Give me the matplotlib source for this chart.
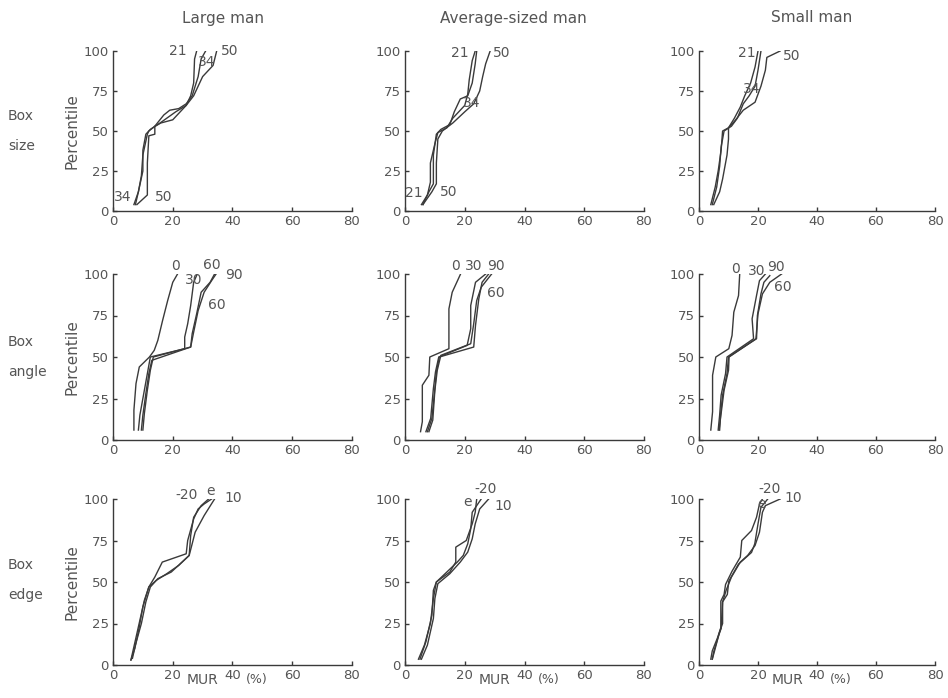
import matplotlib
matplotlib.use("Agg")
import matplotlib.pyplot as plt

# ---------------- data (MUR %, percentile) ----------------
col_titles = ["Large man", "Average-sized man", "Small man"]
row_titles = ["Box\nsize", "Box\nangle", "Box\nedge"]
x_ticks = [0, 20, 40, 60, 80]
y_ticks = [0, 25, 50, 75, 100]

# Row 1: box size (21, 34, 50)
size_L_21_x = [7.5, 8.5, 10, 10, 11, 12.5, 15, 18, 21, 24.5, 26, 27, 27.3, 28]
size_L_21_y = [4, 12, 25, 38, 48, 51, 54, 58, 62, 66, 72, 80, 95, 100]
size_L_34_x = [7, 8.5, 9.5, 10, 11.5, 12, 14, 17, 19, 22, 24.5, 26.5, 28.5, 29.5, 31]
size_L_34_y = [4, 12, 22, 35, 48, 50, 53, 60, 63, 64, 67, 72, 84, 95, 100]
size_L_50_x = [8, 11.5, 11.5, 12, 14, 14, 16, 20, 24.5, 27, 30, 33.5, 34.7]
size_L_50_y = [4, 10, 30, 47, 48, 53, 55, 57, 66, 72, 84, 91, 100]

size_A_21_x = [5.5, 7.5, 8.5, 8.5, 10, 11, 14, 16, 18, 20, 21, 21.5, 22.5, 23.5]
size_A_21_y = [4, 10, 18, 30, 42, 49, 52, 58, 62, 66, 73, 82, 94, 100]
size_A_34_x = [6, 8, 9.5, 9.5, 10.5, 12, 15, 16.5, 18.5, 21, 22.5, 23.5, 24]
size_A_34_y = [4, 12, 17, 35, 48, 51, 54, 62, 70, 72, 80, 92, 100]
size_A_50_x = [6, 9, 10.5, 10.5, 11, 12.5, 16, 20, 23, 25, 26, 27, 28.5]
size_A_50_y = [4, 12, 17, 30, 45, 50, 55, 62, 67, 75, 84, 92, 100]

size_S_21_x = [4, 5.5, 6.5, 7.5, 8, 10, 12, 14, 15.5, 17.5, 19, 20]
size_S_21_y = [4, 15, 25, 38, 50, 52, 58, 65, 72, 80, 90, 100]
size_S_34_x = [4.5, 6, 7, 7.5, 8.5, 11, 13, 15, 17, 19, 20, 21]
size_S_34_y = [4, 15, 28, 40, 50, 53, 58, 67, 72, 78, 88, 100]
size_S_50_x = [5, 7, 8, 9.5, 10, 10, 12, 15, 19, 21, 22.5, 23, 27.5]
size_S_50_y = [4, 12, 20, 35, 45, 52, 56, 63, 68, 78, 88, 96, 100]

# Row 2: box angle (0, 30, 60, 90)
angle_L_0_x = [7, 7, 7.7, 8.8, 12.2, 13.8, 15, 16.6, 18.3, 20, 21.6]
angle_L_0_y = [6, 18, 34, 44, 50, 54, 60, 72, 84, 95, 100]
angle_L_30_x = [8.5, 9, 10.5, 11.5, 12.5, 24, 24, 25, 26, 27, 28.2]
angle_L_30_y = [6, 15, 30, 40, 50, 55, 62, 70, 81, 95, 100]
angle_L_60_x = [9.5, 10, 11, 12, 13, 26, 26.5, 28, 29.5, 32.5, 34]
angle_L_60_y = [6, 15, 28, 40, 48, 56, 64, 76, 89, 95, 100]
angle_L_90_x = [10, 10.5, 11.5, 12.5, 13.5, 26, 27, 28.5, 30.5, 33, 34.5]
angle_L_90_y = [6, 16, 30, 42, 50, 56, 65, 78, 89, 96, 100]

angle_A_0_x = [5.2, 5.8, 5.8, 8, 8.3, 14.7, 14.7, 14.7, 15.8, 18.6]
angle_A_0_y = [5, 11, 33, 39, 50, 55, 61, 79, 89, 100]
angle_A_30_x = [7, 8.6, 9.5, 10.2, 11.3, 20.8, 22, 22, 23.6, 27]
angle_A_30_y = [5, 13, 31, 41, 50, 57, 67, 81, 95, 100]
angle_A_60_x = [7.5, 9, 10, 10.5, 11.5, 23, 23.6, 24.7, 25.8, 28]
angle_A_60_y = [5, 13, 31, 41, 50, 56, 69, 85, 95, 100]
angle_A_90_x = [8, 9.3, 10, 10.8, 12, 22, 23, 24, 25.5, 29]
angle_A_90_y = [5, 12, 30, 42, 51, 58, 70, 84, 92, 100]

angle_S_0_x = [4, 4.6, 4.6, 5.7, 10.1, 11.2, 11.8, 13.4, 13.8]
angle_S_0_y = [6, 17, 39, 50, 55, 63, 77, 87, 100]
angle_S_30_x = [6.5, 7, 7.5, 9, 9.5, 18.5, 18, 19.5, 20.5, 22.5]
angle_S_30_y = [6, 15, 27, 40, 50, 61, 73, 87, 96, 100]
angle_S_60_x = [7, 7.3, 8, 9.5, 10, 19.5, 19.8, 21, 22, 24]
angle_S_60_y = [6, 15, 27, 40, 50, 61, 75, 88, 95, 99]
angle_S_90_x = [6.8, 7.5, 8.5, 10, 10.2, 19.3, 20, 21.5, 24, 28]
angle_S_90_y = [6, 16, 30, 42, 50, 61, 76, 88, 95, 100]

# Row 3: box edge (-20, e, 10)
edge_L_m20_x = [6, 7, 9, 10.5, 12, 14, 16.5, 24.5, 25, 27, 28.5, 30.5, 33]
edge_L_m20_y = [3, 11, 27, 39, 47, 53, 62, 67, 75, 88, 94, 97, 100]
edge_L_e_x = [6.5, 7.5, 9.5, 11, 12.5, 15, 19.5, 25.5, 26, 27, 29.5, 32]
edge_L_e_y = [4, 12, 25, 38, 47, 52, 56, 66, 78, 89, 96, 100]
edge_L_10_x = [6, 7.3, 8.7, 10, 12, 14.5, 18, 22, 25.5, 27.5, 30.5, 34]
edge_L_10_y = [3, 10, 22, 35, 47, 51, 55, 60, 66, 80, 90, 100]

edge_A_m20_x = [4.5, 6.5, 8.5, 9.5, 10.5, 14, 17.5, 19.5, 21, 22, 22.5, 24, 25.5]
edge_A_m20_y = [3.5, 12, 25, 40, 50, 56, 62, 66, 73, 82, 92, 96, 100]
edge_A_e_x = [5, 7, 9, 9.5, 10.5, 15, 17, 17, 20.5, 22.5, 23.5, 24]
edge_A_e_y = [3.5, 14, 30, 45, 50, 56, 62, 71, 75, 85, 92, 100]
edge_A_10_x = [5.5, 7.5, 9.5, 10, 11, 15, 18.5, 21, 22.5, 23.5, 25, 28]
edge_A_10_y = [3.5, 12, 28, 40, 49, 55, 62, 68, 76, 85, 94, 100]

edge_S_m20_x = [4.5, 5, 6.5, 7.5, 8, 9.6, 10.1, 13.4, 17.8, 18.9, 20, 21, 23.3]
edge_S_m20_y = [3.5, 8, 17, 22, 38, 42.5, 50.5, 60.8, 67.8, 73, 85, 95, 100]
edge_S_e_x = [4, 4.5, 6.3, 7.4, 7.4, 8.5, 9, 11.2, 14, 14.5, 17.8, 19.5, 20.5, 21.5]
edge_S_e_y = [3.5, 8.5, 16.5, 22.5, 38.5, 42.5, 48.5, 56.5, 65, 75, 81, 89, 97, 100]
edge_S_10_x = [4.5, 5.2, 7, 8, 8, 9.2, 11, 14, 16.5, 19, 20.5, 21.5, 22.5, 27.5]
edge_S_10_y = [3.5, 8, 20, 25, 38, 45, 53, 62, 66, 72, 80, 92, 96, 100]

# curve labels: (text, x, y) in data coordinates
labels_size_L = [("21", 21.8, 100), ("34", 31.3, 93), ("50", 39, 100), ("34", 3.4, 8.7), ("50", 16.8, 8.7)]
labels_size_A = [("21", 18.4, 99), ("50", 32.4, 99), ("34", 22.3, 67.5), ("21", 2.8, 11), ("50", 14.5, 12)]
labels_size_S = [("21", 16.1, 99), ("50", 31.5, 97), ("34", 17.8, 76)]
labels_angle_L = [("0", 21, 105), ("30", 27.1, 96.6), ("60", 33.2, 105.6), ("90", 40.4, 99.6), ("60", 34.8, 81.5)]
labels_angle_A = [("0", 16.9, 104.6), ("30", 23, 105), ("90", 30.3, 105), ("60", 30.3, 88.6)]
labels_angle_S = [("0", 12.3, 103), ("30", 19.5, 102), ("90", 26, 104), ("60", 28.3, 92)]
labels_edge_L = [("-20", 24.7, 102.4), ("e", 32.6, 104.8), ("10", 40.4, 100.4)]
labels_edge_A = [("-20", 27.1, 106), ("e", 20.9, 98), ("10", 32.9, 95.6)]
labels_edge_S = [("-20", 23.9, 106), ("e", 21.1, 97), ("10", 32.1, 100.6)]

panels = [
    [([(size_L_21_x, size_L_21_y), (size_L_34_x, size_L_34_y), (size_L_50_x, size_L_50_y)], labels_size_L),
     ([(size_A_21_x, size_A_21_y), (size_A_34_x, size_A_34_y), (size_A_50_x, size_A_50_y)], labels_size_A),
     ([(size_S_21_x, size_S_21_y), (size_S_34_x, size_S_34_y), (size_S_50_x, size_S_50_y)], labels_size_S)],
    [([(angle_L_0_x, angle_L_0_y), (angle_L_30_x, angle_L_30_y), (angle_L_60_x, angle_L_60_y), (angle_L_90_x, angle_L_90_y)], labels_angle_L),
     ([(angle_A_0_x, angle_A_0_y), (angle_A_30_x, angle_A_30_y), (angle_A_60_x, angle_A_60_y), (angle_A_90_x, angle_A_90_y)], labels_angle_A),
     ([(angle_S_0_x, angle_S_0_y), (angle_S_30_x, angle_S_30_y), (angle_S_60_x, angle_S_60_y), (angle_S_90_x, angle_S_90_y)], labels_angle_S)],
    [([(edge_L_m20_x, edge_L_m20_y), (edge_L_e_x, edge_L_e_y), (edge_L_10_x, edge_L_10_y)], labels_edge_L),
     ([(edge_A_m20_x, edge_A_m20_y), (edge_A_e_x, edge_A_e_y), (edge_A_10_x, edge_A_10_y)], labels_edge_A),
     ([(edge_S_m20_x, edge_S_m20_y), (edge_S_e_x, edge_S_e_y), (edge_S_10_x, edge_S_10_y)], labels_edge_S)],
]

# ---------------- layout ----------------
W, H = 948, 698
INK = "#3a3a3a"
TXT = "#555555"
plt.rcParams["font.family"] = ["DejaVu Sans"]

fig = plt.figure(figsize=(W / 100, H / 100), dpi=100)
fig.patch.set_facecolor("white")

col_left = [113, 405, 699]
col_width = [239, 239, 236]
row_top = [51, 274, 499]
row_bot = [211, 440, 665]
title_x = [223, 513, 812]

for r in range(3):
    for c in range(3):
        ax = fig.add_axes([col_left[c] / W, 1 - row_bot[r] / H,
                           col_width[c] / W, (row_bot[r] - row_top[r]) / H])
        curves, labels = panels[r][c]
        for xs, ys in curves:
            ax.plot(xs, ys, color=INK, lw=1.0)
        for t, lx, ly in labels:
            ax.text(lx, ly, t, ha="center", va="center", fontsize=10,
                    color=TXT, clip_on=False)
        ax.set_xlim(0, 80)
        ax.set_ylim(0, 100)
        ax.set_xticks(x_ticks)
        ax.set_yticks(y_ticks)
        for s in ["top", "right"]:
            ax.spines[s].set_visible(False)
        for s in ["left", "bottom"]:
            ax.spines[s].set_color(INK)
            ax.spines[s].set_linewidth(1.0)
        ax.tick_params(direction="in", length=3, width=1, colors=INK,
                       labelcolor=TXT, labelsize=9.5, pad=3)
        ax.set_facecolor("none")
        if c == 0:
            ax.set_ylabel("Percentile", fontsize=11, color=TXT, labelpad=3)
        if r == 2:
            ax.text(30, -0.09, "MUR", transform=ax.get_xaxis_transform(),
                    ha="center", va="center", fontsize=10, color=TXT)
            ax.text(48, -0.09, "(%)", transform=ax.get_xaxis_transform(),
                    ha="center", va="center", fontsize=9, color=TXT)

for c in range(3):
    fig.text(title_x[c] / W, 1 - 18 / H, col_titles[c], ha="center", va="center",
             fontsize=11, color=TXT)

row_center = [131, 357, 580]
for r in range(3):
    fig.text(8 / W, 1 - row_center[r] / H, row_titles[r], ha="left", va="center",
             fontsize=10, color=TXT, linespacing=2.4)

fig.savefig("out.png", dpi=100, facecolor="white")
